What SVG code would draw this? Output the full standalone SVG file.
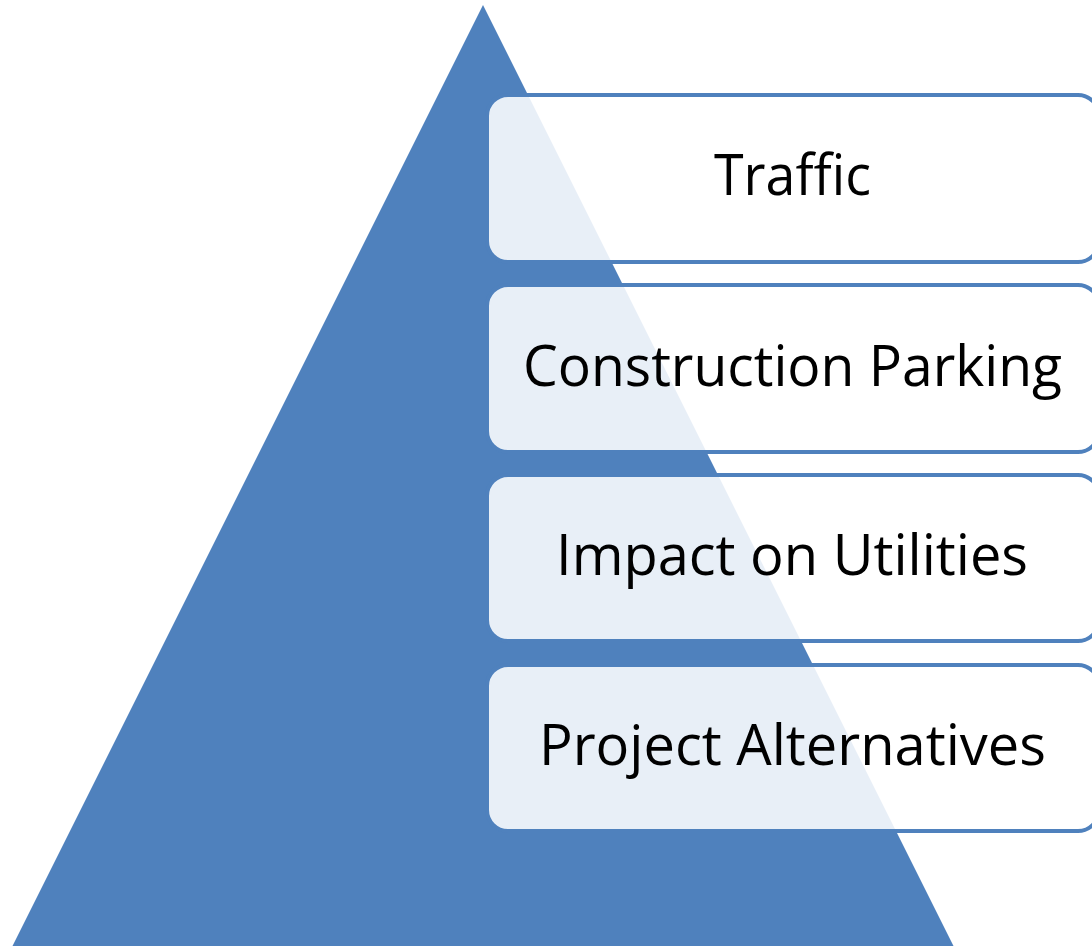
<svg xmlns="http://www.w3.org/2000/svg" width="1092" height="946" viewBox="0 0 1092 946">
  <style>
    .tri { fill: #4f81bd; }
    .box { fill: #ffffff; fill-opacity: 0.87; stroke: #4f81bd; stroke-width: 4; }
    .lbl { font-family: "Open Sans", "Noto Sans", "Liberation Sans", sans-serif; font-size: 56px; fill: #000000; text-anchor: middle; }
  </style>
  <rect x="0" y="0" width="1092" height="946" fill="#ffffff"/>
  <g id="pyramid">
    <polygon class="tri" points="483,5 12,947 954,947"/>
  </g>
  <g id="connectors"></g>
  <g id="node-traffic">
    <rect class="box" x="487" y="95" width="612" height="167" rx="21" ry="21"/>
    <text class="lbl" x="792.5" y="195" textLength="157" lengthAdjust="spacingAndGlyphs">Traffic</text>
  </g>
  <g id="node-construction-parking">
    <rect class="box" x="487" y="285" width="612" height="167" rx="21" ry="21"/>
    <text class="lbl" x="792.5" y="386" textLength="539" lengthAdjust="spacingAndGlyphs">Construction Parking</text>
  </g>
  <g id="node-impact-on-utilities">
    <rect class="box" x="487" y="475" width="612" height="166" rx="21" ry="21"/>
    <text class="lbl" x="792" y="575" textLength="472" lengthAdjust="spacingAndGlyphs">Impact on Utilities</text>
  </g>
  <g id="node-project-alternatives">
    <rect class="box" x="487" y="665" width="612" height="166" rx="21" ry="21"/>
    <text class="lbl" x="792.5" y="765" textLength="507" lengthAdjust="spacingAndGlyphs">Project Alternatives</text>
  </g>
</svg>
